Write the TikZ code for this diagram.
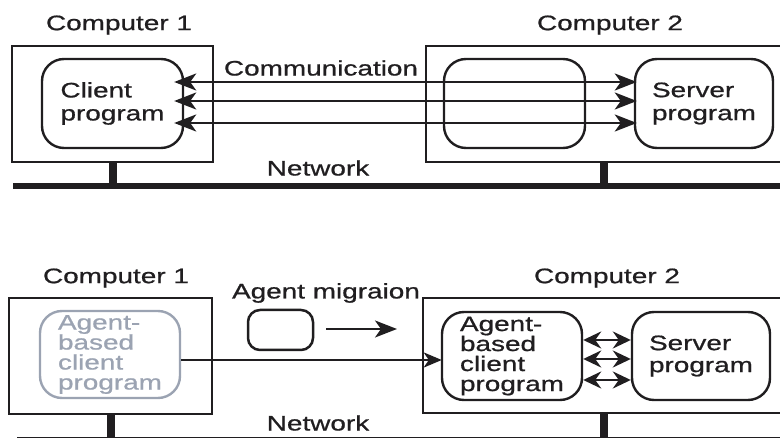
\documentclass[tikz,border=0pt]{standalone}
\usepackage{fontspec}
\setmainfont{Liberation Sans}[FakeStretch=1.33,FakeBold=0.8]
\definecolor{ink}{RGB}{32,30,32}
\definecolor{faded}{RGB}{155,163,178}
\usetikzlibrary{arrows.meta,positioning,calc}
\tikzset{
  host/.style={draw=ink,line width=2.6pt,minimum width=#1,minimum height=116pt,inner sep=0pt},
  prog/.style={draw=ink,line width=2.4pt,rounded corners=22pt,minimum width=#1,
    minimum height=89pt,inner sep=0pt,align=left,text=ink},
  lbl/.style={font=\fontsize{21}{23}\selectfont,text=ink},
  four/.style={font=\fontsize{21}{20}\selectfont},
  link/.style={draw=ink,line width=2.5pt},
  bus/.style={draw=ink,line width=6pt},
  stub/.style={draw=ink,line width=8pt},
  bigtip/.style={{Stealth[length=22pt,width=17pt,inset=6pt]}-{Stealth[length=22pt,width=17pt,inset=6pt]}},
  smalltip/.style={{Stealth[length=18pt,width=17pt,inset=6pt]}-{Stealth[length=18pt,width=17pt,inset=6pt]}}
}

\begin{document}
\begin{tikzpicture}[x=1pt,y=-1pt]
  \useasboundingbox (0,0) rectangle (780,438);
  % client-server
  \node[lbl] (c1a) at (119,25) {Computer 1};
  \node[lbl] (c2a) at (610,25) {Computer 2};
  \node[host=201pt] (pc1a) at (112.5,104) {};
  \node[host=356pt] (pc2a) at (604,104) {};
  \node[prog=141pt,lbl] (client) at (112.5,103.5) {Client\\program};
  \node[prog=141pt] (relay) at (514.5,103.5) {};
  \node[prog=138pt,lbl] (server) at (704,103.5) {Server\\program};
  \node[lbl] (comm) at (321,68) {Communication};
  \foreach \dy in {21.5,2.5,-19.5}
    \draw[link,bigtip] ([xshift=-10pt,yshift=\dy pt]client.east) -- ([xshift=3pt,yshift=\dy pt]server.west);
  \node[lbl] (neta) at (318,168) {Network};
  \coordinate (nwa) at (13,186);
  \coordinate (nea) at (782,186);
  \draw[bus] (nwa) -- (nea);
  \draw[stub] (pc1a.south) -- (pc1a.south |- nwa);
  \draw[stub] (pc2a.south) -- (pc2a.south |- nwa);

  % mobile agent
  \node[lbl] (c1b) at (116,278) {Computer 1};
  \node[lbl] (c2b) at (607,278) {Computer 2};
  \node[host=203pt] (pc1b) at (110.5,356) {};
  \node[host=362pt,minimum height=115pt] (pc2b) at (604,355.5) {};
  \node[prog=140pt,lbl,four,draw=faded,text=faded,minimum height=87pt] (oldagent) at (110,354.5) {Agent-\\based\\client\\program};
  \node[lbl] (mig) at (326,293) {Agent migraion};
  \node[link,rounded corners=12pt,minimum width=65pt,minimum height=40pt] (agent) at (280.5,330) {};
  \coordinate (migend) at (397,329);
  \draw[link,-{Stealth[length=22pt,width=17pt,inset=6pt]}] ([xshift=12pt,yshift=1pt]agent.east) -- (migend);
  \node[prog=140pt,lbl,four,minimum height=88pt] (newagent) at (512,356) {Agent-\\based\\client\\program};
  \node[prog=138pt,lbl,font=\fontsize{21}{22}\selectfont,minimum height=88pt] (serverb) at (701,356) {Server\\program};
  \draw[link,-{Stealth[length=18pt,width=15pt,inset=5pt]}] ([yshift=-5.5pt]oldagent.east) -- ([xshift=1pt,yshift=-4pt]newagent.west);
  \foreach \dy in {16,-3,-24}
    \draw[link,smalltip] ([yshift=\dy pt]newagent.east) -- ([yshift=\dy pt]serverb.west);
  \node[lbl] (netb) at (318,423) {Network};
  \coordinate (nwb) at (17,440);
  \coordinate (neb) at (782,440);
  \draw[bus] (nwb) -- (neb);
  \draw[stub] (pc1b.south) -- (pc1b.south |- nwb);
  \draw[stub] (pc2b.south) -- (pc2b.south |- nwb);
\end{tikzpicture}
\end{document}
